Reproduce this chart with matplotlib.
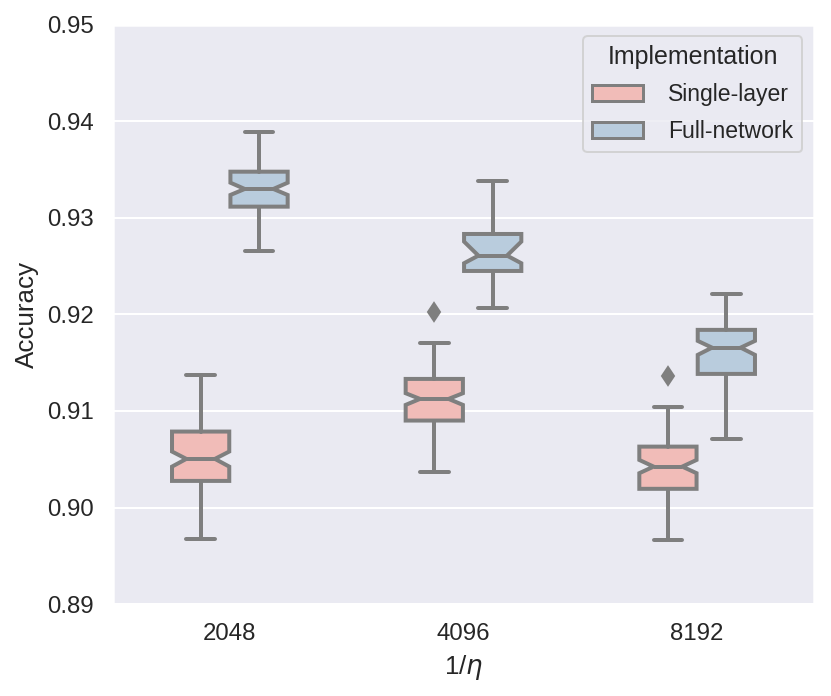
import matplotlib
matplotlib.use("Agg")
import matplotlib.pyplot as plt
from matplotlib.patches import Patch
import seaborn as sns

sns.set_theme(style="darkgrid", context="notebook")
plt.rcParams["font.family"] = ["Liberation Sans", "DejaVu Sans"]
plt.rcParams["xtick.labelsize"] = 12
plt.rcParams["ytick.labelsize"] = 12
plt.rcParams["axes.labelsize"] = 13
plt.rcParams["legend.fontsize"] = 11.5
plt.rcParams["legend.title_fontsize"] = 12.5

# values
etas = ["2048", "4096", "8192"]
impls = ["Single-layer", "Full-network"]

single_whislo = [0.89676, 0.90373, 0.89666]
single_q1 = [0.90276, 0.90901, 0.90194]
single_cilo = [0.90424, 0.91063, 0.90356]
single_med = [0.90504, 0.91125, 0.90424]
single_cihi = [0.90580, 0.91184, 0.90493]
single_q3 = [0.90787, 0.91332, 0.90631]
single_whishi = [0.91374, 0.91708, 0.91039]
single_fliers = [[], [0.92026], [0.91363]]

full_whislo = [0.92660, 0.92064, 0.90711]
full_q1 = [0.93116, 0.92450, 0.91384]
full_cilo = [0.93237, 0.92530, 0.91581]
full_med = [0.93299, 0.92609, 0.91656]
full_cihi = [0.93364, 0.92754, 0.91726]
full_q3 = [0.93478, 0.92833, 0.91840]
full_whishi = [0.93889, 0.93385, 0.92212]
full_fliers = [[], [], []]

colors = [sns.desaturate(c, 0.75) for c in sns.color_palette("Pastel1", 2)]
gray = "#7f7f7f"
lw = 2.0


def make_stats(lo, q1, cilo, med, cihi, q3, hi, fl):
    out = []
    for i in range(len(med)):
        out.append(dict(whislo=lo[i], q1=q1[i], cilo=cilo[i], med=med[i],
                        cihi=cihi[i], q3=q3[i], whishi=hi[i], fliers=fl[i]))
    return out


groups = [
    make_stats(single_whislo, single_q1, single_cilo, single_med,
               single_cihi, single_q3, single_whishi, single_fliers),
    make_stats(full_whislo, full_q1, full_cilo, full_med,
               full_cihi, full_q3, full_whishi, full_fliers),
]

fig = plt.figure(figsize=(831 / 144, 696 / 144), dpi=144)
ax = fig.add_axes([0.136, 0.132, 0.8435, 0.8325])

offsets = [-0.125, 0.125]
for g, stats in enumerate(groups):
    pos = [i + offsets[g] for i in range(len(etas))]
    ax.bxp(stats, positions=pos, widths=0.245, shownotches=True,
           patch_artist=True, manage_ticks=False,
           boxprops=dict(facecolor=colors[g], edgecolor=gray, linewidth=lw),
           medianprops=dict(color=gray, linewidth=lw),
           whiskerprops=dict(color=gray, linewidth=lw),
           capprops=dict(color=gray, linewidth=lw),
           flierprops=dict(marker="d", markerfacecolor=gray, markeredgecolor=gray,
                           markersize=6.5))

ax.set_xlim(-0.5, len(etas) - 0.5)
ax.set_xticks(range(len(etas)))
ax.set_xticklabels(etas)
ax.set_ylim(0.89, 0.95)
ax.set_yticks([0.89, 0.90, 0.91, 0.92, 0.93, 0.94, 0.95])
ax.set_yticklabels(["0.89", "0.90", "0.91", "0.92", "0.93", "0.94", "0.95"])
ax.xaxis.grid(False)
ax.set_xlabel(r"1/$\eta$")
ax.set_ylabel("Accuracy")

handles = [Patch(facecolor=colors[i], edgecolor=gray, linewidth=1.5, label=impls[i])
           for i in range(len(impls))]
ax.legend(handles=handles, title="Implementation", loc="upper right",
          handletextpad=1.1, handlelength=2.2, labelspacing=0.6)

fig.savefig("out.png", dpi=144)
